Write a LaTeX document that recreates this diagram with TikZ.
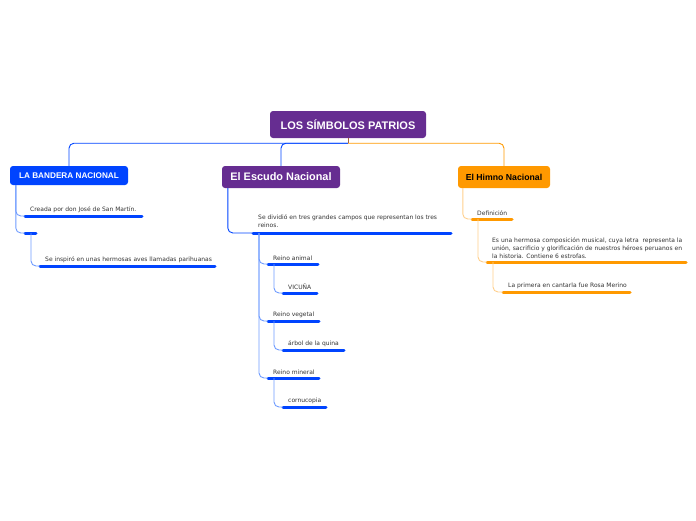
\documentclass[tikz,border=0pt]{standalone}
\usepackage{fontspec}
\setmainfont{Liberation Sans}
\newfontfamily\leaffont{DejaVu Sans}
\definecolor{mapPurple}{RGB}{102,45,145}
\definecolor{mapBlue}{RGB}{0,68,255}
\definecolor{mapLightBlue}{RGB}{110,155,255}
\definecolor{mapOrange}{RGB}{255,153,0}
\definecolor{mapLightOrange}{RGB}{255,207,140}
\definecolor{mapStub}{RGB}{170,100,60}
\definecolor{mapText}{RGB}{51,51,51}
\begin{document}
\begin{tikzpicture}[x=1pt, y=-1pt,
  topic/.style={rounded corners=3pt, inner sep=0pt, align=center},
  leaf/.style={anchor=south west, inner xsep=5pt, inner ysep=3pt, align=left,
    text=mapText, font=\leaffont\fontsize{6}{8}\selectfont},
  uline/.style={line width=3pt, line cap=round},
  conn/.style={line width=0.9pt, rounded corners=5pt}]
  \useasboundingbox (0,0) rectangle (696,520);
  % Main topics (boxes)
  \node[topic, fill=mapPurple, text=white, minimum width=156pt, minimum height=27pt,
    font=\bfseries\fontsize{11}{12}\selectfont] (root) at (348,124.5) {LOS SÍMBOLOS PATRIOS};
  \node[topic, fill=mapBlue, text=white, minimum width=118pt, minimum height=19pt,
    font=\bfseries\fontsize{8.2}{9}\selectfont] (band) at (69,175.5) {LA BANDERA NACIONAL};
  \node[topic, fill=mapPurple, text=white, minimum width=118pt, minimum height=22pt,
    font=\bfseries\fontsize{10.9}{12}\selectfont] (escudo) at (281,177) {El Escudo Nacional};
  \node[topic, fill=mapOrange, text=black, minimum width=92pt, minimum height=22pt,
    font=\bfseries\fontsize{8.7}{10}\selectfont] (himno) at (504,177) {El Himno Nacional};
  % Branches from the root
  \coordinate (hub) at ([yshift=-5pt]root.south);
  \draw[line width=0.9pt, mapStub] (root.south) -- (hub);
  \draw[conn, mapBlue] (hub) -| (band.north);
  \draw[conn, mapBlue] (hub) -| (escudo.north);
  \draw[conn, mapOrange] (hub) -| (himno.north);
  % La bandera
  \node[leaf] (creada) at (25,216) {Creada por don José de San Martín.};
  \node[leaf] (blank) at (25,233) {};
  \node[leaf] (parih) at (40,266) {Se inspiró en unas hermosas aves llamadas parihuanas};
  \draw[uline, mapBlue] (creada.south west) -- ++(117,0);
  \draw[uline, mapBlue] (blank.south west) -- ++(11,0);
  \draw[uline, mapBlue] (parih.south west) -- ++(175,0);
  \draw[conn, mapLightBlue] ([xshift=6pt]band.south west) |- (creada.south west);
  \draw[conn, mapLightBlue] ([xshift=6pt]band.south west) |- (blank.south west);
  \draw[conn, mapLightBlue] ([xshift=6pt]blank.south west) |- (parih.south west);
  % El escudo
  \node[leaf, inner ysep=5pt] (divid) at (253,233) {Se dividió en tres grandes campos que representan los tres\\reinos.};
  \node[leaf] (ranimal) at (268,264) {Reino animal};
  \node[leaf] (vicuna) at (283,293) {VICUÑA};
  \node[leaf] (rveg) at (268,321) {Reino vegetal};
  \node[leaf] (arbol) at (283,350) {árbol de la quina};
  \node[leaf] (rmin) at (268,378) {Reino mineral};
  \node[leaf] (cornu) at (283,407) {cornucopia};
  \draw[uline, mapBlue] (divid.south west) -- ++(198,0);
  \draw[uline, mapBlue] (ranimal.south west) -- ++(50,0);
  \draw[uline, mapBlue] (vicuna.south west) -- ++(34,0);
  \draw[uline, mapBlue] (rveg.south west) -- ++(51,0);
  \draw[uline, mapBlue] (arbol.south west) -- ++(61,0);
  \draw[uline, mapBlue] (rmin.south west) -- ++(51,0);
  \draw[uline, mapBlue] (cornu.south west) -- ++(43,0);
  \draw[conn, mapBlue] ([xshift=6pt]escudo.south west) |- (divid.south west);
  \draw[conn, mapLightBlue] ([xshift=6pt]divid.south west) |- (ranimal.south west);
  \draw[conn, mapLightBlue] ([xshift=6pt]divid.south west) |- (rveg.south west);
  \draw[conn, mapLightBlue] ([xshift=6pt]divid.south west) |- (rmin.south west);
  \draw[conn, mapLightBlue] ([xshift=6pt]ranimal.south west) |- (vicuna.south west);
  \draw[conn, mapLightBlue] ([xshift=6pt]rveg.south west) |- (arbol.south west);
  \draw[conn, mapLightBlue] ([xshift=6pt]rmin.south west) |- (cornu.south west);
  % El himno
  \node[leaf] (defin) at (472,219) {Definición};
  \node[leaf] (hermosa) at (487,262) {Es una hermosa composición musical, cuya letra\ \ representa la\\unión, sacrificio y glorificación de nuestros héroes peruanos en\\la historia. Contiene 6 estrofas.};
  \node[leaf] (rosa) at (503,292) {La primera en cantarla fue Rosa Merino};
  \draw[uline, mapOrange] (defin.south west) -- ++(40,0);
  \draw[uline, mapOrange] (hermosa.south west) -- ++(199,0);
  \draw[uline, mapOrange] (rosa.south west) -- ++(127,0);
  \draw[conn, mapLightOrange] ([xshift=5pt]himno.south west) |- (defin.south west);
  \draw[conn, mapLightOrange] ([xshift=6pt]defin.south west) |- (hermosa.south west);
  \draw[conn, mapLightOrange] ([xshift=6pt]hermosa.south west) |- (rosa.south west);
\end{tikzpicture}
\end{document}
